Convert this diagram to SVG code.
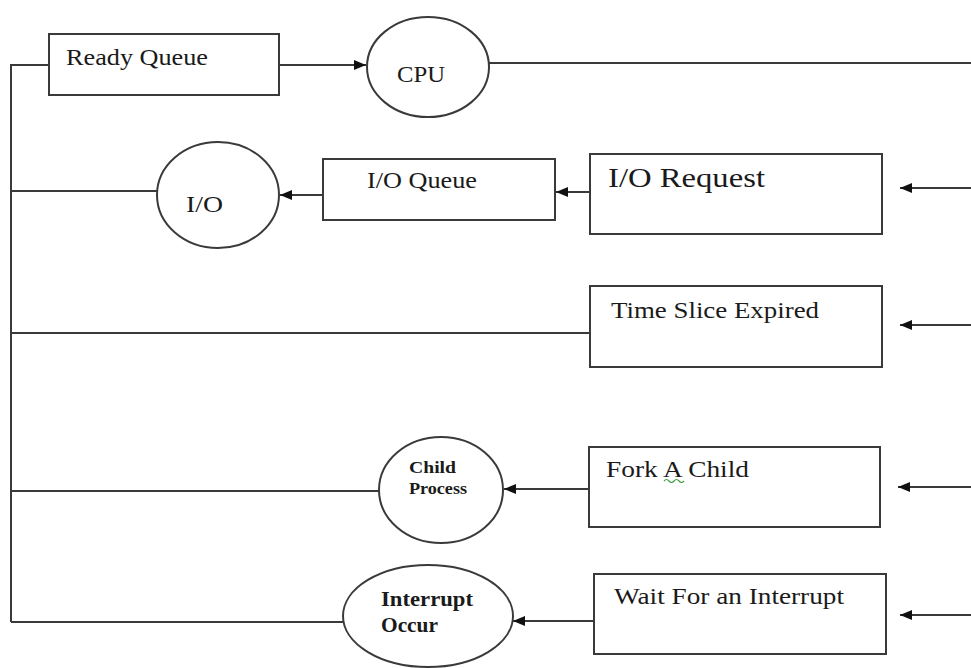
<svg xmlns="http://www.w3.org/2000/svg" width="971" height="668" viewBox="0 0 971 668">
<style>
.box{fill:#fff;stroke:#3a3a3a;stroke-width:2}
.ell{fill:#fff;stroke:#3a3a3a;stroke-width:2}
.ln{fill:none;stroke:#3a3a3a;stroke-width:2}
.t{font-family:"Liberation Serif","Times New Roman",serif;font-size:24px;fill:#1a1a1a}
.b{font-weight:bold}
</style>
<defs>
<marker id="ah" viewBox="0 0 12 10" refX="12" refY="5" markerWidth="12" markerHeight="10" markerUnits="userSpaceOnUse" orient="auto">
<path d="M0,0 L12,5 L0,10 z" fill="#111"/>
</marker>
</defs>
<rect width="971" height="668" fill="#fff"/>
<g id="connectors">
<path class="ln" d="M11,622 L11,65 L49,65"/>
<path class="ln" d="M279,65 L366,65" marker-end="url(#ah)"/>
<path class="ln" d="M489,63 L971,63"/>
<path class="ln" d="M11,191 L157,191"/>
<path class="ln" d="M323,195 L280,195" marker-end="url(#ah)"/>
<path class="ln" d="M590,192 L556,192" marker-end="url(#ah)"/>
<path class="ln" d="M971,188 L900,188" marker-end="url(#ah)"/>
<path class="ln" d="M11,333 L590,333"/>
<path class="ln" d="M971,325 L900,325" marker-end="url(#ah)"/>
<path class="ln" d="M11,491 L379,491"/>
<path class="ln" d="M588,489 L504,489" marker-end="url(#ah)"/>
<path class="ln" d="M971,487 L898,487" marker-end="url(#ah)"/>
<path class="ln" d="M11,622 L343,622"/>
<path class="ln" d="M594,621 L513,621" marker-end="url(#ah)"/>
<path class="ln" d="M971,615 L900,615" marker-end="url(#ah)"/>
</g>
<g id="ready-queue">
<rect class="box" x="49" y="34" width="230" height="61"/>
<text class="t" x="66" y="65" textLength="142" lengthAdjust="spacingAndGlyphs">Ready Queue</text>
</g>
<g id="cpu">
<ellipse class="ell" cx="428" cy="67" rx="61" ry="50"/>
<text class="t" x="397" y="82" textLength="48" lengthAdjust="spacingAndGlyphs">CPU</text>
</g>
<g id="io">
<ellipse class="ell" cx="218" cy="195" rx="61" ry="53"/>
<text class="t" x="186" y="212" textLength="37" lengthAdjust="spacingAndGlyphs">I/O</text>
</g>
<g id="io-queue">
<rect class="box" x="323" y="159" width="232" height="61"/>
<text class="t" x="367" y="188" textLength="110" lengthAdjust="spacingAndGlyphs">I/O Queue</text>
</g>
<g id="io-request">
<rect class="box" x="590" y="154" width="292" height="80"/>
<text class="t" x="608" y="187" style="font-size:28px" textLength="157" lengthAdjust="spacingAndGlyphs">I/O Request</text>
</g>
<g id="time-slice">
<rect class="box" x="590" y="286" width="292" height="81"/>
<text class="t" x="611" y="318" textLength="208" lengthAdjust="spacingAndGlyphs">Time Slice Expired</text>
</g>
<g id="child-process">
<ellipse class="ell" cx="441" cy="490" rx="62" ry="53"/>
<text class="t b" x="409" y="473" style="font-size:16px" textLength="47" lengthAdjust="spacingAndGlyphs">Child</text>
<text class="t b" x="409" y="494" style="font-size:16px" textLength="58" lengthAdjust="spacingAndGlyphs">Process</text>
</g>
<g id="fork-child">
<rect class="box" x="589" y="447" width="291" height="80"/>
<text class="t" x="606" y="477" textLength="143" lengthAdjust="spacingAndGlyphs">Fork A Child</text>
<path d="M664,481 q2.5,-3 5,0 t5,0 t5,0 t5,0" fill="none" stroke="#3aa03a" stroke-width="1.2"/>
</g>
<g id="interrupt-occur">
<ellipse class="ell" cx="428" cy="616" rx="85" ry="51"/>
<text class="t b" x="381" y="606" style="font-size:20px" textLength="92" lengthAdjust="spacingAndGlyphs">Interrupt</text>
<text class="t b" x="381" y="632" style="font-size:20px" textLength="57" lengthAdjust="spacingAndGlyphs">Occur</text>
</g>
<g id="wait-interrupt">
<rect class="box" x="594" y="574" width="292" height="80"/>
<text class="t" x="614" y="604" textLength="230" lengthAdjust="spacingAndGlyphs">Wait For an Interrupt</text>
</g>
</svg>
